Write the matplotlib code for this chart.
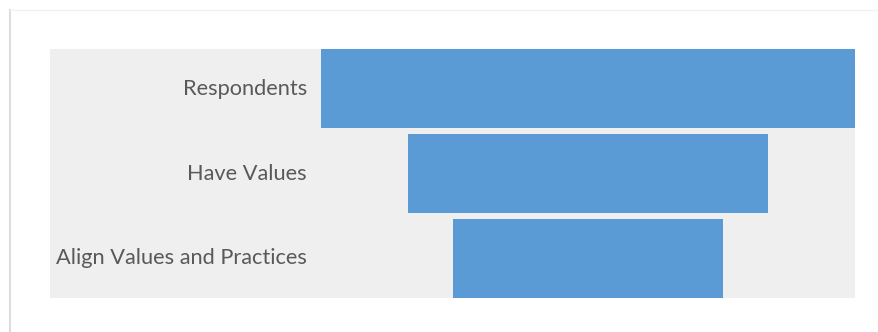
import matplotlib
matplotlib.use("Agg")
import matplotlib.pyplot as plt
from matplotlib.lines import Line2D

categories = ["Respondents", "Have Values", "Align Values and Practices"]
values = [100, 67.6, 50.6]

W, H = 879, 332
fig = plt.figure(figsize=(W / 100, H / 100), dpi=100)
fig.patch.set_facecolor("white")

# faint frame lines
fig.add_artist(Line2D([10 / W, 10 / W], [0, 1 - 10 / H], color="#dcdcdc", lw=1.5))
fig.add_artist(Line2D([10 / W, 1], [1 - 10 / H, 1 - 10 / H], color="#f2f2f2", lw=1))

h = 0.93
ax = fig.add_axes([50 / W, (H - 298) / H, (855 - 50) / W, (298 - 49) / H])
ax.set_facecolor("#efefef")
ax.barh(range(len(values)), values, left=[-v / 2 + 0.3 for v in values],
        height=h, color="#5b9bd5")
ax.set_xlim(-100.45, 50.3)
ax.set_ylim(len(values) - 1 + h / 2, -h / 2)
for i, c in enumerate(categories):
    ax.text(-52.3, i, c, ha="right", va="center", fontsize=15.7,
            color="#595959", family=["Lato", "DejaVu Sans"])
ax.set_xticks([])
ax.set_yticks([])
for s in ax.spines.values():
    s.set_visible(False)

fig.savefig("out.png", dpi=100)
